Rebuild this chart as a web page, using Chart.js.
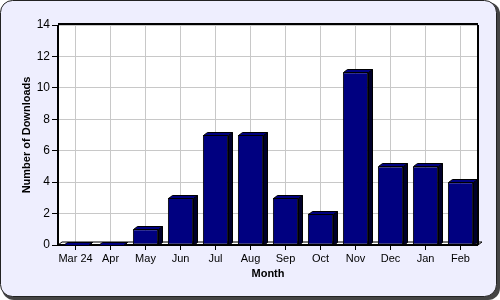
<!DOCTYPE html>
<html>
<head>
<meta charset="utf-8">
<script src="https://cdn.jsdelivr.net/npm/chart.js@4.4.0/dist/chart.umd.min.js"></script>
<style>
  html, body { margin: 0; padding: 0; background: #ffffff; }
  #wrap { width: 500px; height: 300px; }
</style>
</head>
<body>
<div id="wrap"><canvas id="chart" width="500" height="300"></canvas></div>
<script>
const months = ['Mar 24', 'Apr', 'May', 'Jun', 'Jul', 'Aug', 'Sep', 'Oct', 'Nov', 'Dec', 'Jan', 'Feb'];
const downloads = [0, 0, 1, 3, 7, 7, 3, 2, 11, 5, 5, 4];
const yTicks = [0, 2, 4, 6, 8, 10, 12, 14];

const DX = 4, DY = 3;

// lavender panel with rounded border, plot frame and 3D bar faces
const panel = {
  id: 'panel',
  beforeDraw(chart) {
    const c = chart.ctx;
    c.save();
    c.fillStyle = '#444444';
    c.beginPath();
    c.roundRect(2, 2, 498, 298, 12);
    c.fill();
    c.fillStyle = '#eeeefe';
    c.strokeStyle = '#222222';
    c.lineWidth = 1;
    c.beginPath();
    c.roundRect(0.5, 0.5, 496, 296, 12);
    c.fill();
    c.stroke();
    const a = chart.chartArea;
    c.fillStyle = '#ffffff';
    c.fillRect(a.left, a.top, a.right - a.left, a.bottom - a.top);
    c.restore();
  },
  beforeDatasetsDraw(chart) {
    const c = chart.ctx;
    const a = chart.chartArea;
    c.save();
    c.strokeStyle = '#000000';
    c.lineWidth = 1;
    // floor
    c.fillStyle = '#ffffff';
    c.beginPath();
    c.moveTo(a.left, a.bottom);
    c.lineTo(a.right, a.bottom);
    c.lineTo(a.right + DX, a.bottom - DY);
    c.lineTo(a.left + DX, a.bottom - DY);
    c.closePath();
    c.fill();
    c.stroke();
    // frame
    c.lineWidth = 2;
    c.beginPath();
    c.moveTo(a.left, a.bottom);
    c.lineTo(a.left, a.top);
    c.moveTo(a.left, a.top - 1);
    c.lineTo(a.right, a.top - 1);
    c.moveTo(a.right, a.top);
    c.lineTo(a.right, a.bottom);
    c.moveTo(a.left, a.bottom);
    c.lineTo(a.right, a.bottom);
    c.stroke();
    c.restore();
  },
  afterDatasetsDraw(chart) {
    const c = chart.ctx;
    const meta = chart.getDatasetMeta(0);
    c.save();
    c.strokeStyle = '#000000';
    c.lineWidth = 1;
    meta.data.forEach(bar => {
      const p = bar.getProps(['x', 'y', 'base', 'width'], true);
      const l = Math.round(p.x - p.width / 2) + 0.5;
      const r = Math.round(p.x + p.width / 2) + 0.5;
      const t = Math.round(p.y) + 0.5;
      const b = Math.round(p.base) + 0.5;
      // side
      c.fillStyle = '#00002a';
      c.beginPath();
      c.moveTo(r, b);
      c.lineTo(r, t);
      c.lineTo(r + DX, t - DY);
      c.lineTo(r + DX, b - DY);
      c.closePath();
      c.fill();
      c.stroke();
      // top
      c.fillStyle = '#000080';
      c.beginPath();
      c.moveTo(l, t);
      c.lineTo(r, t);
      c.lineTo(r + DX, t - DY);
      c.lineTo(l + DX, t - DY);
      c.closePath();
      c.fill();
      c.stroke();
    });
    c.restore();
  }
};

new Chart(document.getElementById('chart'), {
  type: 'bar',
  data: {
    labels: months,
    datasets: [{
      data: downloads,
      backgroundColor: '#000080',
      borderColor: '#000000',
      borderWidth: 1,
      borderSkipped: false,
      categoryPercentage: 1,
      barPercentage: 0.72
    }]
  },
  options: {
    responsive: false,
    animation: false,
    events: [],
    layout: { padding: { left: 20, right: 22, top: 25, bottom: 17 } },
    plugins: { legend: { display: false }, tooltip: { enabled: false } },
    scales: {
      x: {
        afterFit(s) { s.height = 38; },
        grid: { offset: false, color: '#c8c8c8', drawTicks: true, tickLength: 5, tickColor: '#000000', tickWidth: 1 },
        border: { display: false },
        ticks: { color: '#000000', font: { family: 'Liberation Sans, Arial', size: 11 }, padding: 2, maxRotation: 0, autoSkip: false },
        title: { display: true, text: 'Month', color: '#000000', font: { family: 'Liberation Sans, Arial', size: 11, weight: 'bold' }, padding: { top: 0, bottom: 2 } }
      },
      y: {
        min: 0, max: 14,
        afterFit(s) { s.width = 38; },
        afterBuildTicks(s) { s.ticks = yTicks.map(v => ({ value: v })); },
        grid: { color: '#c8c8c8', tickLength: 6, tickColor: '#000000', tickWidth: 1 },
        border: { display: false },
        ticks: { color: '#000000', font: { family: 'Liberation Sans, Arial', size: 12 }, padding: 2 },
        title: { display: true, text: 'Number of Downloads', color: '#000000', font: { family: 'Liberation Sans, Arial', size: 11, weight: 'bold' }, padding: { top: 0, bottom: 0 } }
      }
    }
  },
  plugins: [panel]
});
</script>
</body>
</html>
